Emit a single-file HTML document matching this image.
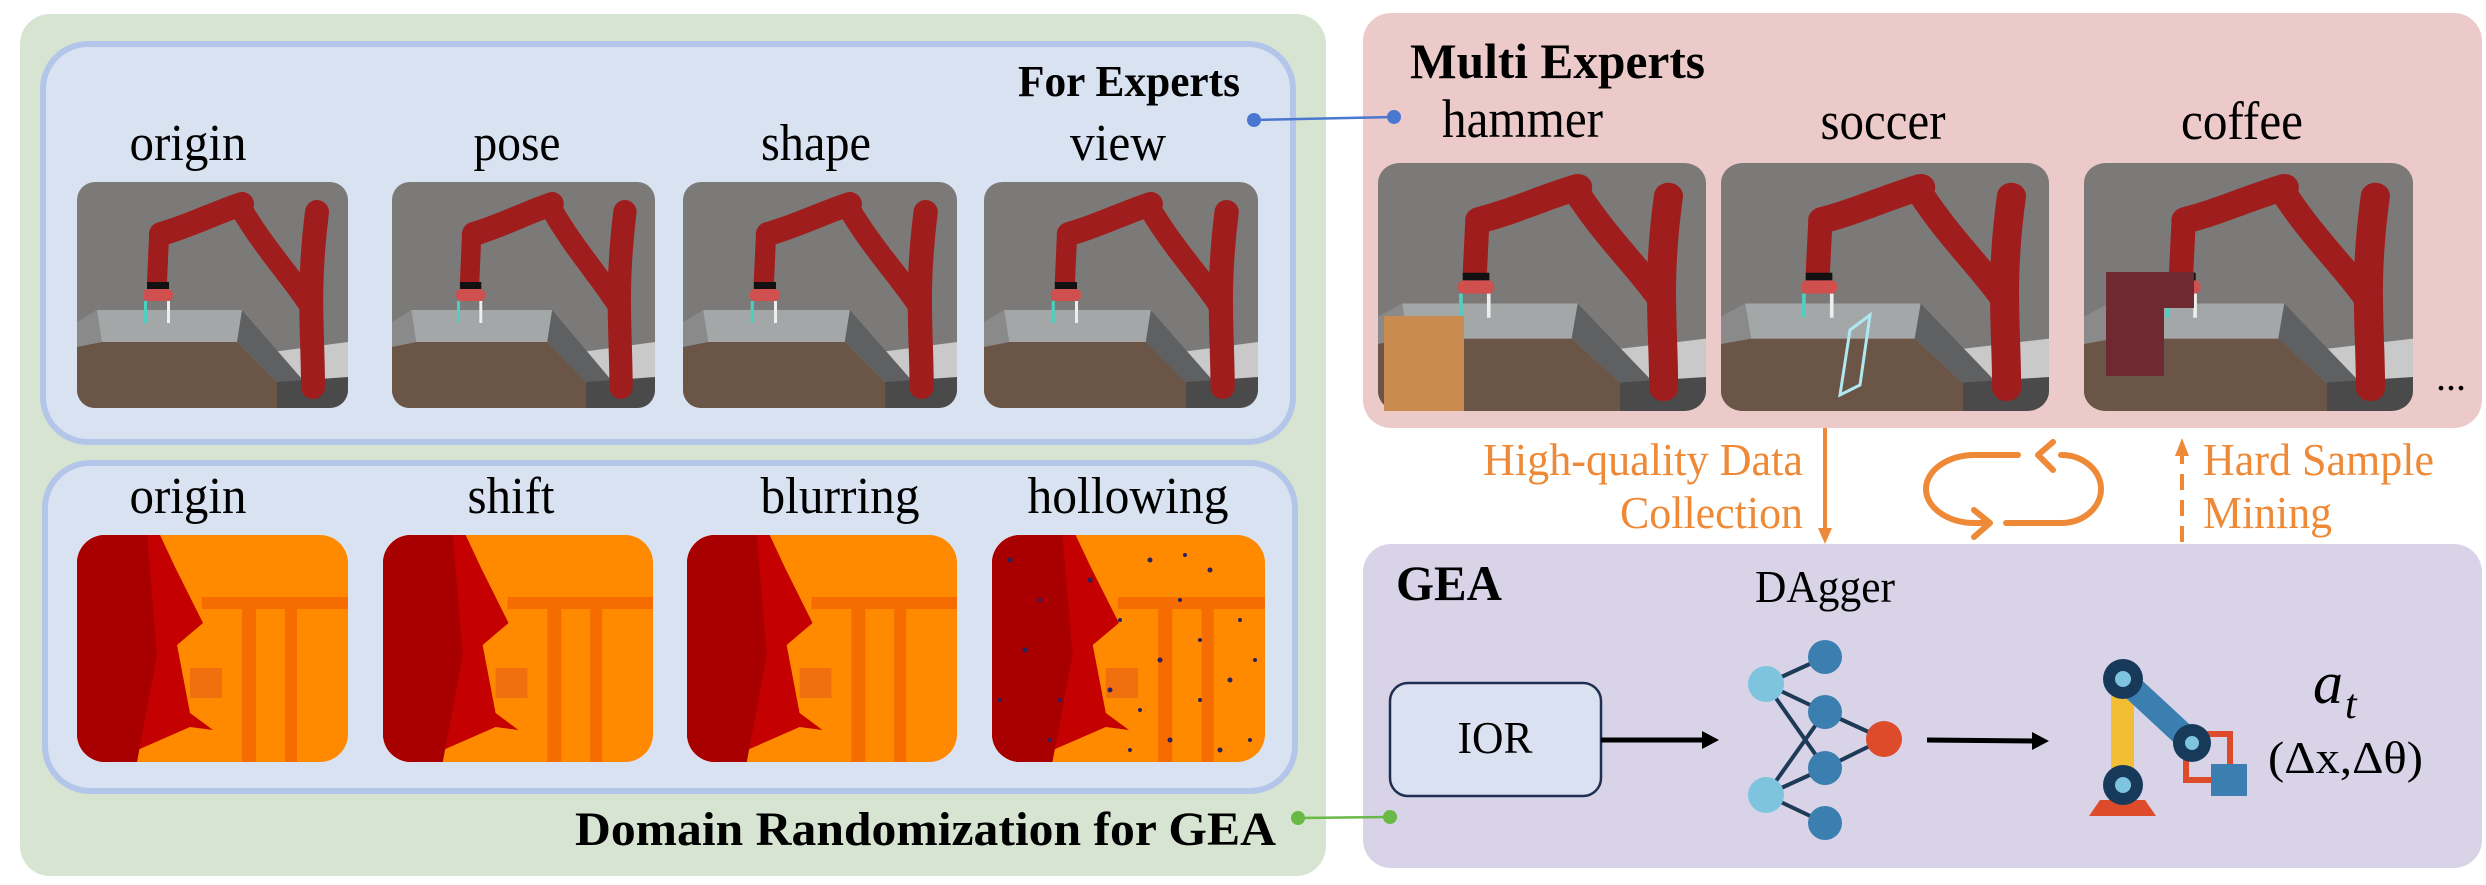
<!DOCTYPE html>
<html><head><meta charset="utf-8"><style>html,body{margin:0;padding:0;background:#fff}svg{display:block}svg text{font-family:"Liberation Serif","DejaVu Serif",serif}</style></head>
<body>
<svg width="2486" height="885" viewBox="0 0 2486 885" xmlns="http://www.w3.org/2000/svg">
<defs>
<clipPath id="cr"><rect x="0" y="0" width="271" height="226" rx="18"/></clipPath>
<clipPath id="cd"><rect x="0" y="0" width="271" height="227" rx="28"/></clipPath>
<symbol id="rob" viewBox="0 0 271 226" preserveAspectRatio="none">
<g clip-path="url(#cr)">
<rect width="271" height="226" fill="#7b7a78"/>
<polygon points="195,170 271,160 271,226 195,226" fill="#c9c9c9"/>
<polygon points="0,140 20,128 165,128 250,226 0,226" fill="#8a8a8a"/>
<polygon points="0,165 25,160 160,160 225,226 0,226" fill="#6b5546"/>
<polygon points="20,128 165,128 160,160 25,160" fill="#a4a7a8"/>
<polygon points="165,128 250,226 225,226 160,160" fill="#5f6062"/>
<polygon points="200,200 271,195 271,226 200,226" fill="#4a4a4a"/>
<g stroke="#a01d1d" stroke-linecap="round" fill="none">
<path d="M236,205 C236,150 230,110 240,30" stroke-width="24"/>
<path d="M234,125 C215,95 190,70 165,28" stroke-width="22"/>
<path d="M165,22 C140,30 110,45 84,52" stroke-width="24"/>
<path d="M82,55 L80,100" stroke-width="20"/>
</g>
<rect x="70" y="100" width="22" height="7" fill="#111"/>
<rect x="66" y="107" width="30" height="12" rx="5" fill="#d05050"/>
<rect x="67" y="119" width="3" height="22" fill="#4dd0c0"/>
<rect x="90" y="119" width="3" height="22" fill="#eee"/>
</g>
</symbol>
<symbol id="dep" viewBox="0 0 271 227" preserveAspectRatio="none">
<g clip-path="url(#cd)">
<rect width="271" height="227" fill="#ff8a00"/>
<rect x="125" y="62" width="146" height="12" fill="#f56d00"/>
<rect x="165" y="62" width="14" height="165" fill="#f56d00"/>
<rect x="208" y="62" width="12" height="165" fill="#f56d00"/>
<rect x="113" y="133" width="32" height="30" fill="#f07010"/>
<polygon points="0,0 83,0 98,32 126,88 100,110 113,178 136,195 113,192 33,227 0,227" fill="#c40000"/>
<polygon points="0,0 70,0 80,120 60,227 0,227" fill="#a80000"/>
</g>
</symbol>
</defs>

<rect x="20" y="14" width="1306" height="862" rx="30" fill="#d6e4d1"/>
<rect x="43" y="44" width="1250" height="398" rx="45" fill="#d9e2f1" stroke="#b3c6ea" stroke-width="6"/>
<rect x="45" y="463" width="1250" height="328" rx="45" fill="#d9e2f1" stroke="#b3c6ea" stroke-width="6"/>
<rect x="1363" y="13" width="1119" height="415" rx="28" fill="#edcaca"/>
<rect x="1363" y="544" width="1119" height="324" rx="28" fill="#d9d3e8"/>

<text x="1018" y="96" font-size="44" font-weight="bold" textLength="222" lengthAdjust="spacingAndGlyphs">For Experts</text>
<g font-size="52" text-anchor="middle">
<text x="188" y="160" textLength="117" lengthAdjust="spacingAndGlyphs">origin</text>
<text x="517" y="160" textLength="87" lengthAdjust="spacingAndGlyphs">pose</text>
<text x="816" y="160" textLength="110" lengthAdjust="spacingAndGlyphs">shape</text>
<text x="1118" y="160" textLength="96" lengthAdjust="spacingAndGlyphs">view</text>
<text x="188" y="513" textLength="117" lengthAdjust="spacingAndGlyphs">origin</text>
<text x="511" y="513" textLength="87" lengthAdjust="spacingAndGlyphs">shift</text>
<text x="840" y="513" textLength="159" lengthAdjust="spacingAndGlyphs">blurring</text>
<text x="1128" y="513" textLength="201" lengthAdjust="spacingAndGlyphs">hollowing</text>
</g>
<text x="575" y="845" font-size="48" font-weight="bold" textLength="701" lengthAdjust="spacingAndGlyphs">Domain Randomization for GEA</text>

<use href="#rob" x="77" y="182" width="271" height="226"/>
<use href="#rob" x="392" y="182" width="263" height="226"/>
<use href="#rob" x="683" y="182" width="274" height="226"/>
<use href="#rob" x="984" y="182" width="274" height="226"/>

<use href="#dep" x="77" y="535" width="271" height="227"/>
<use href="#dep" x="383" y="535" width="270" height="227"/>
<use href="#dep" x="687" y="535" width="270" height="227"/>
<use href="#dep" x="992" y="535" width="273" height="227"/>
<g fill="#2a2060">
<circle cx="1010" cy="560" r="2.5"/><circle cx="1040" cy="600" r="2"/><circle cx="1025" cy="650" r="2.5"/><circle cx="1060" cy="700" r="2"/><circle cx="1090" cy="580" r="2.5"/><circle cx="1120" cy="620" r="2"/><circle cx="1150" cy="560" r="2.5"/><circle cx="1180" cy="600" r="2"/><circle cx="1210" cy="570" r="2.5"/><circle cx="1240" cy="620" r="2"/><circle cx="1160" cy="660" r="2.5"/><circle cx="1200" cy="700" r="2"/><circle cx="1230" cy="680" r="2.5"/><circle cx="1250" cy="740" r="2"/><circle cx="1170" cy="740" r="2.5"/><circle cx="1140" cy="710" r="2"/><circle cx="1110" cy="690" r="2.5"/><circle cx="1130" cy="750" r="2"/><circle cx="1200" cy="640" r="2"/><circle cx="1050" cy="740" r="2"/><circle cx="1000" cy="700" r="2"/><circle cx="1220" cy="750" r="2.5"/><circle cx="1255" cy="660" r="2"/><circle cx="1185" cy="555" r="2"/>
</g>

<line x1="1254" y1="120" x2="1394" y2="117" stroke="#4a78d0" stroke-width="2.5"/>
<circle cx="1254" cy="120" r="7" fill="#4a78d0"/><circle cx="1394" cy="117" r="7" fill="#4a78d0"/>
<line x1="1298" y1="818" x2="1390" y2="817" stroke="#6ab947" stroke-width="2.5"/>
<circle cx="1298" cy="818" r="7" fill="#6ab947"/><circle cx="1390" cy="817" r="7" fill="#6ab947"/>

<text x="1410" y="78" font-size="50" font-weight="bold" textLength="295" lengthAdjust="spacingAndGlyphs">Multi Experts</text>
<text x="1442" y="137" font-size="54" textLength="161" lengthAdjust="spacingAndGlyphs">hammer</text>
<text x="1883" y="139" font-size="54" text-anchor="middle" textLength="125" lengthAdjust="spacingAndGlyphs">soccer</text>
<text x="2242" y="139" font-size="54" text-anchor="middle" textLength="122" lengthAdjust="spacingAndGlyphs">coffee</text>
<use href="#rob" x="1378" y="163" width="328" height="248"/>
<use href="#rob" x="1721" y="163" width="328" height="248"/>
<use href="#rob" x="2084" y="163" width="329" height="248"/>
<rect x="1384" y="316" width="80" height="95" fill="#c98b50"/>
<polygon points="1850,330 1870,315 1860,385 1840,395" fill="none" stroke="#aee8f0" stroke-width="3"/>
<rect x="2106" y="272" width="58" height="104" fill="#6e2a30"/>
<rect x="2164" y="272" width="30" height="36" fill="#6e2a30"/>
<text x="2436" y="390" font-size="40">...</text>

<g fill="#ee8a37" stroke="#ee8a37">
<line x1="1825" y1="428" x2="1825" y2="530" stroke-width="4"/>
<polygon points="1818,528 1832,528 1825,544" stroke="none"/>
<line x1="2182" y1="542" x2="2182" y2="452" stroke-width="4" stroke-dasharray="16,10"/>
<polygon points="2175,456 2189,456 2182,438" stroke="none"/>
</g>
<g fill="none" stroke="#ee8a37" stroke-width="6" stroke-linecap="round" stroke-linejoin="round">
<path d="M2018,455 L1975,455 A49,34 0 0 0 1975,523 L1988,523"/>
<path d="M1974,510 L1990,523 L1974,537"/>
<path d="M2006,523 L2061,523 A40,34 0 0 0 2061,455"/>
<path d="M2053,442 L2038,455 L2053,470"/>
</g>
<g font-size="46" fill="#ee8a37">
<text x="1803" y="475" text-anchor="end" textLength="320" lengthAdjust="spacingAndGlyphs">High-quality Data</text>
<text x="1803" y="528" text-anchor="end" textLength="183" lengthAdjust="spacingAndGlyphs">Collection</text>
<text x="2203" y="475" textLength="231" lengthAdjust="spacingAndGlyphs">Hard Sample</text>
<text x="2203" y="528" textLength="129" lengthAdjust="spacingAndGlyphs">Mining</text>
</g>

<text x="1396" y="600" font-size="50" font-weight="bold" textLength="106" lengthAdjust="spacingAndGlyphs">GEA</text>
<text x="1755" y="602" font-size="46" textLength="140" lengthAdjust="spacingAndGlyphs">DAgger</text>
<rect x="1390" y="683" width="211" height="113" rx="18" fill="#dae2f2" stroke="#1f2f4f" stroke-width="2.5"/>
<text x="1495" y="753" font-size="46" text-anchor="middle" textLength="75" lengthAdjust="spacingAndGlyphs">IOR</text>
<line x1="1601" y1="740" x2="1705" y2="740" stroke="#000" stroke-width="5"/>
<polygon points="1702,731 1719,740 1702,749" fill="#000"/>
<line x1="1927" y1="740" x2="2035" y2="741" stroke="#000" stroke-width="5"/>
<polygon points="2032,732 2049,741 2032,750" fill="#000"/>

<g stroke="#1d3a57" stroke-width="4">
<line x1="1766" y1="684" x2="1825" y2="657"/>
<line x1="1766" y1="684" x2="1825" y2="712"/>
<line x1="1766" y1="684" x2="1825" y2="768"/>
<line x1="1766" y1="795" x2="1825" y2="712"/>
<line x1="1766" y1="795" x2="1825" y2="768"/>
<line x1="1766" y1="795" x2="1825" y2="823"/>
<line x1="1825" y1="712" x2="1884" y2="739"/>
<line x1="1825" y1="768" x2="1884" y2="739"/>
</g>
<g fill="#3a7fb0">
<circle cx="1825" cy="657" r="17"/><circle cx="1825" cy="712" r="17"/><circle cx="1825" cy="768" r="17"/><circle cx="1825" cy="823" r="17"/>
</g>
<circle cx="1766" cy="684" r="18" fill="#7ec4de"/><circle cx="1766" cy="795" r="18" fill="#7ec4de"/>
<circle cx="1884" cy="739" r="18" fill="#dd4b2b"/>

<polygon points="2089,816 2156,816 2145,800 2100,800" fill="#dd4b2b"/>
<rect x="2111" y="679" width="23" height="106" fill="#f2be34"/>
<line x1="2123" y1="679" x2="2192" y2="743" stroke="#3a7fb0" stroke-width="24"/>
<rect x="2186" y="734" width="44" height="46" fill="none" stroke="#dd4b2b" stroke-width="6"/>
<rect x="2211" y="764" width="36" height="32" fill="#3a7fb0"/>
<g fill="#173a5a"><circle cx="2123" cy="679" r="20"/><circle cx="2123" cy="785" r="20"/><circle cx="2192" cy="743" r="19"/></g>
<g fill="#7ec4de"><circle cx="2123" cy="679" r="8"/><circle cx="2123" cy="785" r="8"/><circle cx="2192" cy="743" r="7"/></g>

<text x="2313" y="703" font-size="60" font-style="italic">a</text>
<text x="2345" y="718" font-size="42" font-style="italic">t</text>
<text x="2268" y="773" font-size="46" textLength="155" lengthAdjust="spacingAndGlyphs">(Δx,Δθ)</text>
</svg>
</body></html>
